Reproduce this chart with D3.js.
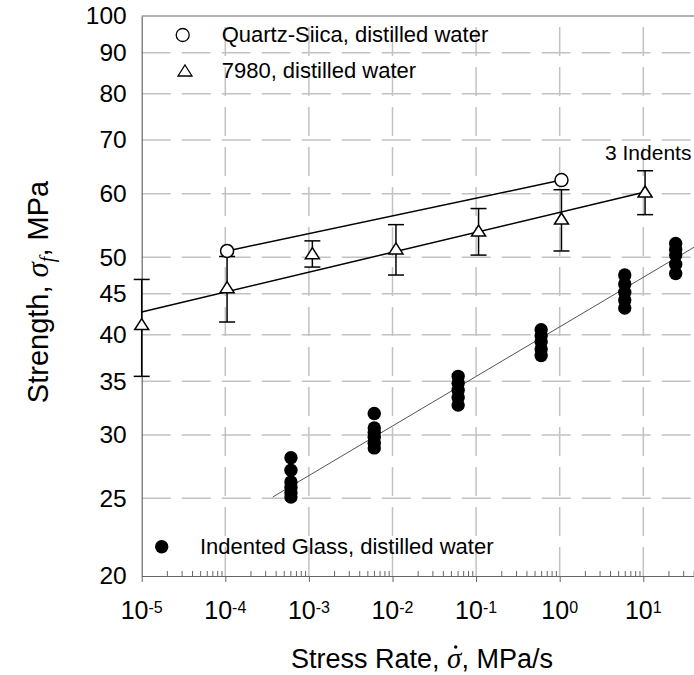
<!DOCTYPE html>
<html>
<head>
<meta charset="utf-8">
<script src="https://cdn.jsdelivr.net/npm/d3@7"></script>
<style>
  body { margin: 0; background: #fff; }
  svg text { font-family: "Liberation Sans", Arial, sans-serif; fill: #000; }
</style>
</head>
<body>
<div id="chart"></div>
<script>
// axis ticks
var xTicks = [1e-5, 1e-4, 1e-3, 1e-2, 1e-1, 1e0, 1e1];
var xExponents = ['-5', '-4', '-3', '-2', '-1', '0', '1'];
var yTicks = [20, 25, 30, 35, 40, 45, 50, 60, 70, 80, 90, 100];

// Quartz-Silica, distilled water
var quartzRate = [1.05e-4, 1.05];
var quartzStrength = [50.9, 62.4];

// 7980, distilled water (mean +/- error)
var rate7980 = [1e-5, 1.05e-4, 1.1e-3, 1.1e-2, 1.07e-1, 1.05, 10.5];
var strength7980 = [41.2, 45.8, 50.5, 51.2, 53.9, 55.8, 60.3];
var err7980 = [5.7, 4.3, 1.9, 3.7, 3.6, 4.9, 3.8];

// Indented glass, distilled water (several specimens per rate)
var glassRate = [6.1e-4, 6.05e-3, 6.1e-2, 0.6, 6.0, 24.4];
var glassStrength = [
  [28.1, 27.1, 26.2, 25.8, 25.4, 25.1],
  [31.9, 30.6, 30.2, 29.8, 29.3, 28.9],
  [35.5, 34.8, 34.1, 33.4, 32.7],
  [40.6, 39.9, 39.2, 38.4, 37.7],
  [47.5, 46.3, 45.2, 44.2, 43.2],
  [52.0, 51.1, 50.3, 49.0, 47.7]
];

// fit lines (end points)
var fitQuartzRate = [1.05e-4, 1.05];
var fitQuartzStrength = [50.9, 62.4];
var fit7980Rate = [1e-5, 10.5];
var fit7980Strength = [42.7, 60.3];
var fitGlassRate = [3.7e-4, 56];
var fitGlassStrength = [25.1, 52.5];

var width = 694, height = 675;
var plotLeft = 141.7, plotTop = 16, plotBottom = 576;
var decade = 83.6;

var svg = d3.select("#chart")
  .append("svg")
  .attr("width", width)
  .attr("height", height);

var xScale = d3.scaleLog()
  .domain([1e-5, 1e2])
  .range([plotLeft, plotLeft + 7 * decade]);

var yScale = d3.scaleLog()
  .domain([20, 100])
  .range([plotBottom, plotTop]);

// grid
svg.append("g")
  .selectAll("line")
  .data(yTicks.slice(1, -1))
  .enter()
  .append("line")
  .attr("x1", plotLeft)
  .attr("x2", width)
  .attr("y1", d => yScale(d))
  .attr("y2", d => yScale(d))
  .attr("stroke", "#c2c2c2")
  .attr("stroke-width", 1.5)
  .attr("stroke-dasharray", "29,11");

svg.append("g")
  .selectAll("line")
  .data(xTicks.slice(1))
  .enter()
  .append("line")
  .attr("x1", d => xScale(d))
  .attr("x2", d => xScale(d))
  .attr("y1", plotBottom)
  .attr("y2", plotTop)
  .attr("stroke", "#c2c2c2")
  .attr("stroke-width", 1.5)
  .attr("stroke-dasharray", "29,11");

// top frame
svg.append("line")
  .attr("x1", plotLeft)
  .attr("x2", width)
  .attr("y1", plotTop)
  .attr("y2", plotTop)
  .attr("stroke", "#666")
  .attr("stroke-width", 1.2);

// x axis: minor ticks (inside), major ticks
var minor = [];
xScale.ticks().forEach(function(t) {
  var m = Math.round(t / Math.pow(10, Math.floor(Math.log10(t) + 1e-9)));
  if (m !== 1) minor.push(t);
});

svg.append("g")
  .attr("transform", `translate(0, ${plotBottom})`)
  .style("color", "#666")
  .call(d3.axisBottom(xScale).tickValues(minor).tickSize(-5).tickSizeOuter(0).tickFormat(""));

svg.append("g")
  .attr("transform", `translate(0, ${plotBottom})`)
  .style("color", "#666")
  .call(d3.axisBottom(xScale).tickValues(xTicks).tickSize(6).tickSizeOuter(0).tickFormat(""))
  .select(".domain").attr("stroke-width", 1.2);

var xLabels = svg.append("g")
  .selectAll("text")
  .data(xTicks)
  .enter()
  .append("text")
  .attr("x", d => xScale(d))
  .attr("y", 619)
  .attr("text-anchor", "middle");

xLabels.append("tspan")
  .attr("font-size", "25px")
  .text("10");

xLabels.append("tspan")
  .attr("font-size", "16px")
  .attr("dy", -6)
  .text((d, i) => xExponents[i]);

// y axis
svg.append("g")
  .attr("transform", `translate(${plotLeft}, 0)`)
  .style("color", "#666")
  .call(d3.axisLeft(yScale).tickValues(yTicks).tickSize(0).tickSizeOuter(0).tickPadding(15).tickFormat(d3.format("d")))
  .call(g => g.select(".domain").attr("stroke-width", 1.2))
  .selectAll("text")
  .attr("font-size", "24.5px")
  .attr("font-family", "Liberation Sans, Arial, sans-serif")
  .style("fill", "#000");

// fit lines
var line = d3.line()
  .x(d => xScale(d[0]))
  .y(d => yScale(d[1]));

svg.append("path")
  .datum(fitGlassRate.map((r, i) => [r, fitGlassStrength[i]]))
  .attr("d", line)
  .attr("fill", "none")
  .attr("stroke", "#555")
  .attr("stroke-width", 1);

svg.append("path")
  .datum(fit7980Rate.map((r, i) => [r, fit7980Strength[i]]))
  .attr("d", line)
  .attr("fill", "none")
  .attr("stroke", "#000")
  .attr("stroke-width", 1.5);

svg.append("path")
  .datum(fitQuartzRate.map((r, i) => [r, fitQuartzStrength[i]]))
  .attr("d", line)
  .attr("fill", "none")
  .attr("stroke", "#000")
  .attr("stroke-width", 1.5);

// error bars for 7980
var bars = svg.append("g")
  .selectAll("g")
  .data(rate7980)
  .enter()
  .append("g")
  .attr("stroke", "#000")
  .attr("stroke-width", 1.5);

bars.append("line")
  .attr("x1", d => xScale(d))
  .attr("x2", d => xScale(d))
  .attr("y1", (d, i) => yScale(strength7980[i] + err7980[i]))
  .attr("y2", (d, i) => yScale(strength7980[i] - err7980[i]));

bars.append("line")
  .attr("x1", d => xScale(d) - 8)
  .attr("x2", d => xScale(d) + 8)
  .attr("y1", (d, i) => yScale(strength7980[i] + err7980[i]))
  .attr("y2", (d, i) => yScale(strength7980[i] + err7980[i]));

bars.append("line")
  .attr("x1", d => xScale(d) - 8)
  .attr("x2", d => xScale(d) + 8)
  .attr("y1", (d, i) => yScale(strength7980[i] - err7980[i]))
  .attr("y2", (d, i) => yScale(strength7980[i] - err7980[i]));

var triangle = "M0,-6L7,5L-7,5Z";

svg.append("g")
  .selectAll("path")
  .data(rate7980)
  .enter()
  .append("path")
  .attr("d", triangle)
  .attr("transform", (d, i) => `translate(${xScale(d)},${yScale(strength7980[i])})`)
  .attr("fill", "#fff")
  .attr("stroke", "#000")
  .attr("stroke-width", 1.5);

// quartz circles
svg.append("g")
  .selectAll("circle")
  .data(quartzRate)
  .enter()
  .append("circle")
  .attr("cx", d => xScale(d))
  .attr("cy", (d, i) => yScale(quartzStrength[i]))
  .attr("r", 6.5)
  .attr("fill", "#fff")
  .attr("stroke", "#000")
  .attr("stroke-width", 1.5);

// indented glass dots
var glassPoints = [];
glassRate.forEach(function(r, i) {
  glassStrength[i].forEach(function(s) { glassPoints.push([r, s]); });
});

svg.append("g")
  .selectAll("circle")
  .data(glassPoints)
  .enter()
  .append("circle")
  .attr("cx", d => xScale(d[0]))
  .attr("cy", d => yScale(d[1]))
  .attr("r", 6.7)
  .attr("fill", "#000");

// legend
svg.append("circle")
  .attr("cx", 182.7).attr("cy", 35).attr("r", 6.5)
  .attr("fill", "#fff").attr("stroke", "#000").attr("stroke-width", 1.3);
svg.append("text")
  .attr("x", 221.7).attr("y", 42).attr("font-size", "22px")
  .text("Quartz-Siica, distilled water");

svg.append("path")
  .attr("d", triangle)
  .attr("transform", "translate(185,71)")
  .attr("fill", "#fff").attr("stroke", "#000").attr("stroke-width", 1.3);
svg.append("text")
  .attr("x", 221.7).attr("y", 78.3).attr("font-size", "22px")
  .text("7980, distilled water");

svg.append("circle")
  .attr("cx", 161.7).attr("cy", 546.7).attr("r", 6.7)
  .attr("fill", "#000");
svg.append("text")
  .attr("x", 200).attr("y", 553.5).attr("font-size", "22px")
  .text("Indented Glass, distilled water");

svg.append("text")
  .attr("x", 605).attr("y", 160).attr("font-size", "21px")
  .text("3 Indents");

// axis titles
var xTitle = svg.append("text")
  .attr("x", 422)
  .attr("y", 668)
  .attr("text-anchor", "middle")
  .attr("font-size", "27px");
xTitle.append("tspan").text("Stress Rate, ");
var sigmaDot = xTitle.append("tspan")
  .attr("font-family", "Liberation Serif, serif")
  .attr("font-style", "italic")
  .attr("font-size", "29px")
  .text("\u03C3");
xTitle.append("tspan").text(", MPa/s");

// dot over sigma
var sStart = sigmaDot.node().getStartPositionOfChar(0);
var sLen = sigmaDot.node().getComputedTextLength();
svg.append("circle")
  .attr("cx", sStart.x + sLen * 0.6)
  .attr("cy", 668 - 21)
  .attr("r", 1.7)
  .attr("fill", "#000");

var yTitle = svg.append("text")
  .attr("transform", "translate(48, 292) rotate(-90)")
  .attr("text-anchor", "middle")
  .attr("font-size", "29px");
yTitle.append("tspan").text("Strength, ");
yTitle.append("tspan")
  .attr("font-family", "Liberation Serif, serif")
  .attr("font-style", "italic")
  .attr("font-size", "31px")
  .text("\u03C3");
yTitle.append("tspan")
  .attr("font-family", "Liberation Serif, serif")
  .attr("font-style", "italic")
  .attr("font-size", "20px")
  .attr("dy", 6)
  .text("f");
yTitle.append("tspan")
  .attr("dy", -6)
  .text(", MPa");
</script>
</body>
</html>
